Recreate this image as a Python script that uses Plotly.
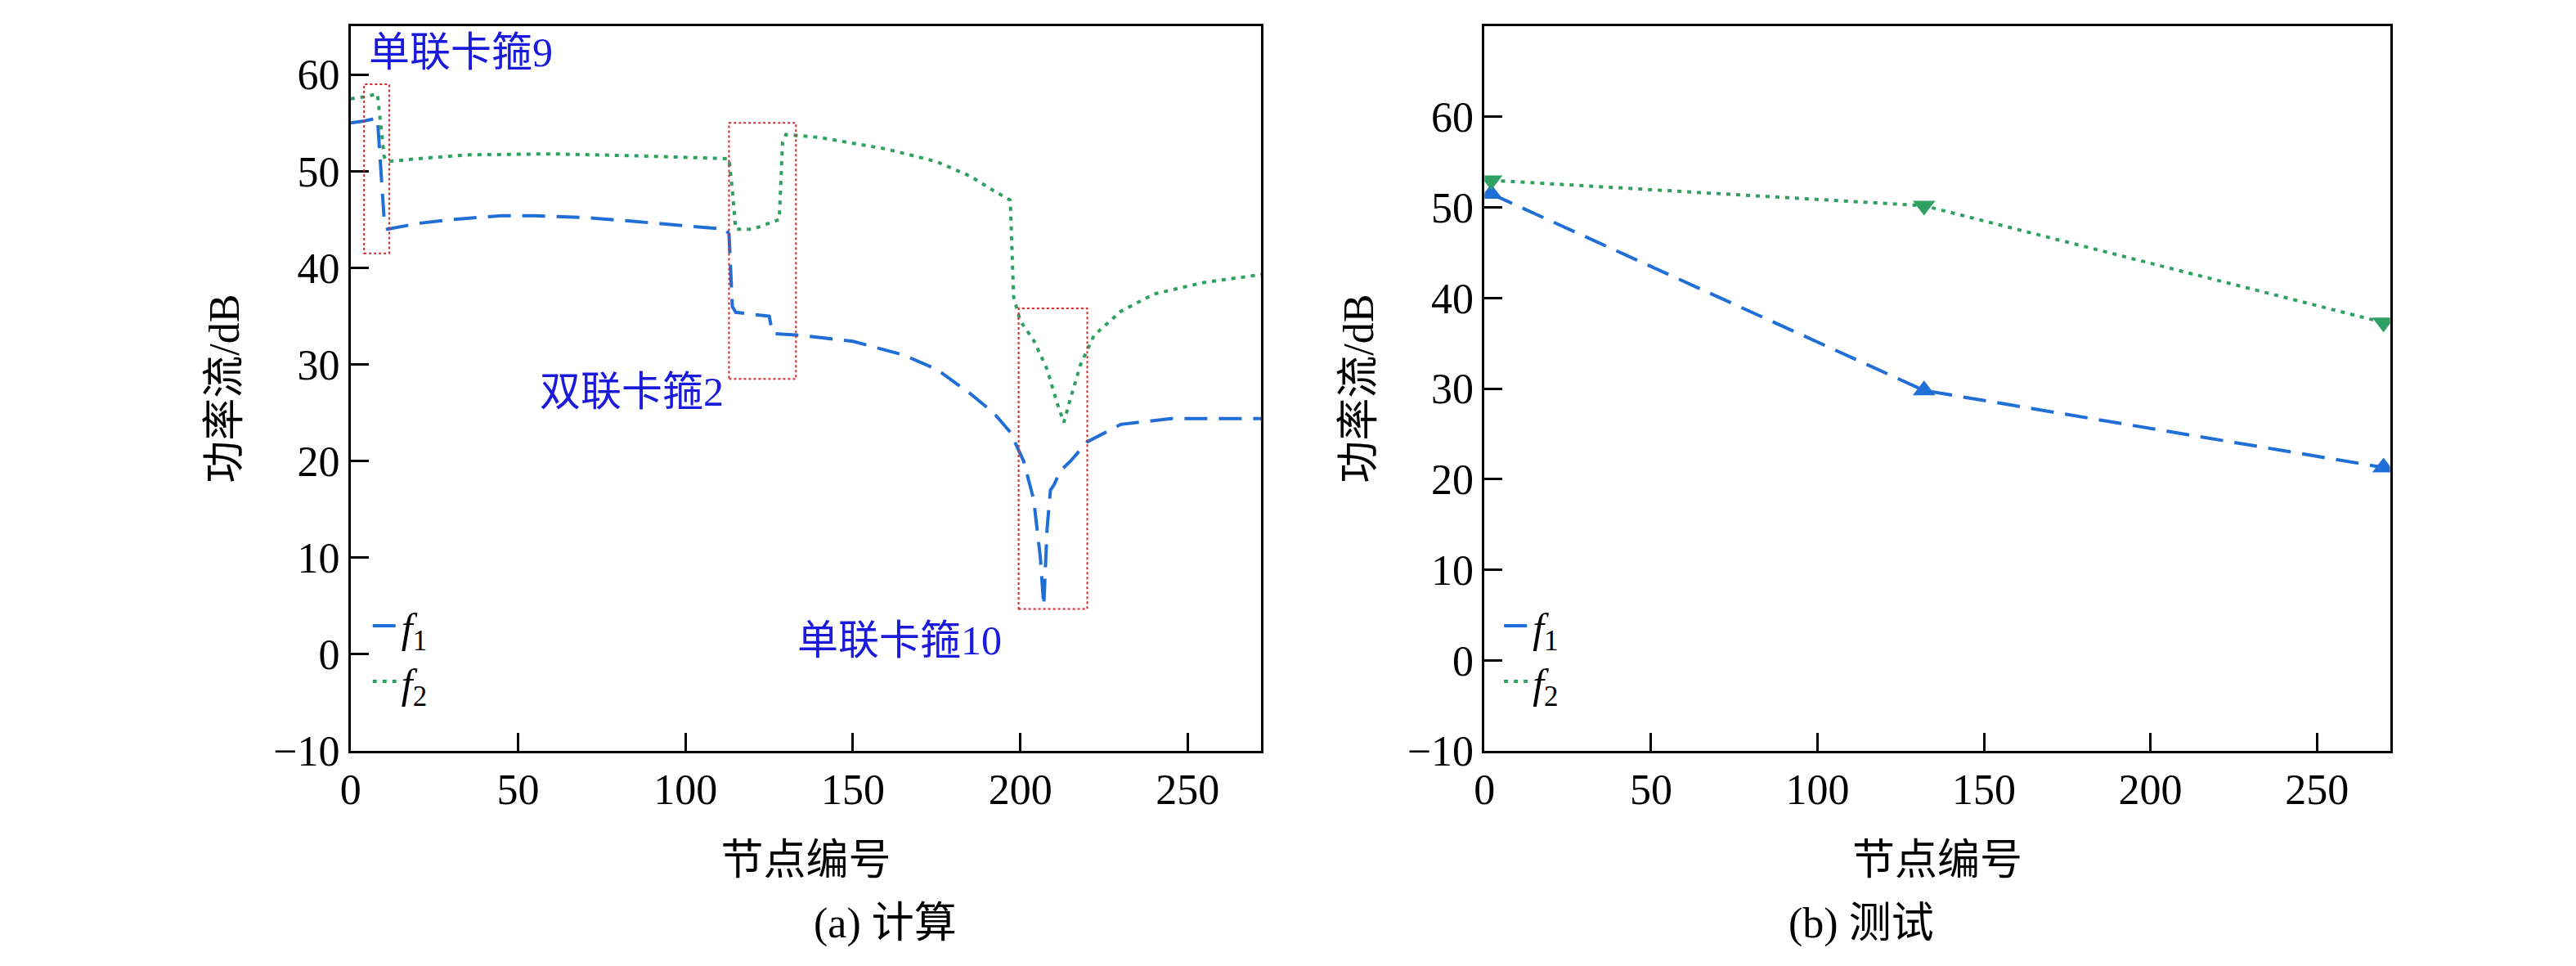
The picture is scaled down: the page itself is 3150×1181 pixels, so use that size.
import plotly.graph_objects as go
from plotly.subplots import make_subplots

BLUE = "#1f6fd6"
GREEN = "#2ea062"
FONT = "'Times New Roman', 'Liberation Serif', 'Noto Sans CJK SC', serif"

# (a) calculated power flow along the nodes
calc_f1 = {
    "x": [0, 4, 8, 9, 10, 11, 20, 30, 45, 55, 70, 85, 100, 112, 113, 114, 115, 120, 125, 126, 135,
          150, 165, 175, 185, 192, 197, 201, 204, 206, 207, 208, 209, 210, 212, 215, 220, 230, 245, 272],
    "y": [55, 55.2, 55.5, 50, 45, 44, 44.6, 45, 45.4, 45.4, 45.2, 44.8, 44.4, 44, 43.5, 36, 35.4, 35.2, 35, 33.2, 33,
          32.4, 31, 29.5, 27, 25, 23, 20, 16, 10, 5, 13, 17, 17.5, 19, 20, 22, 23.8, 24.4, 24.4],
}
calc_f2 = {
    "x": [0, 4, 8, 9, 10, 11, 20, 35, 60, 85, 113, 114, 115, 120, 128, 129, 130, 140, 160, 175,
          185, 192, 197, 198, 200, 204, 208, 211, 213, 215, 218, 222, 230, 240, 255, 272],
    "y": [57.5, 57.7, 58, 55, 51.5, 51, 51.3, 51.7, 51.8, 51.6, 51.3, 48, 44, 44, 45, 53, 53.8, 53.5, 52.3, 51,
          49.5, 48, 47, 37, 34.5, 32.5, 29.5, 26, 24, 26.5, 30, 33, 35.5, 37.3, 38.5, 39.3],
}
# (b) measured
test_x = [2, 132, 270]
test_f1 = [51.5, 29.8, 21.3]
test_f2 = [53.0, 50.2, 37.3]

boxes = [(4, 11.5, 41.5, 59), (113, 133, 28.5, 55), (199.5, 220, 4.7, 35.8)]
labels = [("单联卡箍9", 5, 62.3, "left"), ("双联卡箍2", 84, 27.2, "center"), ("单联卡箍10", 164, 1.4, "center")]

f1_name = "<i>f</i><sub>1</sub>"
f2_name = "<i>f</i><sub>2</sub>"
dash_line = dict(color=BLUE, width=4, dash="28px,14px")
dot_line = dict(color=GREEN, width=4, dash="5px,7px")

fig = make_subplots(rows=1, cols=2)
fig.add_trace(go.Scatter(x=calc_f1["x"], y=calc_f1["y"], mode="lines", name=f1_name,
                         line=dash_line, legend="legend"), 1, 1)
fig.add_trace(go.Scatter(x=calc_f2["x"], y=calc_f2["y"], mode="lines", name=f2_name,
                         line=dot_line, legend="legend"), 1, 1)
fig.add_trace(go.Scatter(x=test_x, y=test_f1, mode="lines", name=f1_name,
                         line=dash_line, legend="legend2"), 1, 2)
fig.add_trace(go.Scatter(x=test_x, y=test_f2, mode="lines", name=f2_name,
                         line=dot_line, legend="legend2"), 1, 2)
fig.add_trace(go.Scatter(x=test_x, y=test_f1, mode="markers", showlegend=False,
                         marker=dict(symbol="triangle-up", size=24, color=BLUE)), 1, 2)
fig.add_trace(go.Scatter(x=test_x, y=test_f2, mode="markers", showlegend=False,
                         marker=dict(symbol="triangle-down", size=24, color=GREEN)), 1, 2)

for x0, x1, y0, y1 in boxes:
    fig.add_shape(type="rect", x0=x0, x1=x1, y0=y0, y1=y1, xref="x", yref="y",
                  line=dict(color="#d62728", width=2, dash="dot"))
for text, x, y, anchor in labels:
    fig.add_annotation(x=x, y=y, xref="x", yref="y", text=text, showarrow=False, xanchor=anchor,
                       font=dict(size=50, color="#1a1adc", family=FONT))

axis_style = dict(showline=True, linecolor="black", linewidth=3, mirror=True, ticks="inside",
                  ticklen=22, tickwidth=3, tickcolor="black", showgrid=False, zeroline=False,
                  tickfont=dict(size=52, family=FONT, color="black"))
fig.update_xaxes(axis_style, range=[0, 272], dtick=50,
                 title=dict(text="节点编号", standoff=40, font=dict(size=52, family=FONT, color="black")))
fig.update_yaxes(axis_style, dtick=10,
                 title=dict(text="功率流/dB", standoff=25, font=dict(size=52, family=FONT, color="black")))
fig.update_xaxes(domain=[0.13, 0.485], row=1, col=1)
fig.update_xaxes(domain=[0.572, 0.925], row=1, col=2)
fig.update_yaxes(domain=[0.21, 0.979], range=[-10, 65], row=1, col=1)
fig.update_yaxes(domain=[0.21, 0.979], range=[-10, 70], row=1, col=2)

for xc, cap in [(0.31, "(a) 计算"), (0.748, "(b) 测试")]:
    fig.add_annotation(x=xc, y=0.0, xref="paper", yref="paper", yanchor="bottom", text=cap,
                       showarrow=False, font=dict(size=52, family=FONT, color="black"))

leg = dict(bgcolor="rgba(0,0,0,0)", font=dict(size=50, family=FONT, color="black"),
           yanchor="bottom", y=0.25, xanchor="left")
fig.update_layout(
    width=3150, height=1181, plot_bgcolor="white", paper_bgcolor="white",
    margin=dict(l=0, r=0, t=0, b=0), font=dict(family=FONT),
    legend=dict(leg, x=0.137), legend2=dict(leg, x=0.578),
)
fig.write_html("out.html")
